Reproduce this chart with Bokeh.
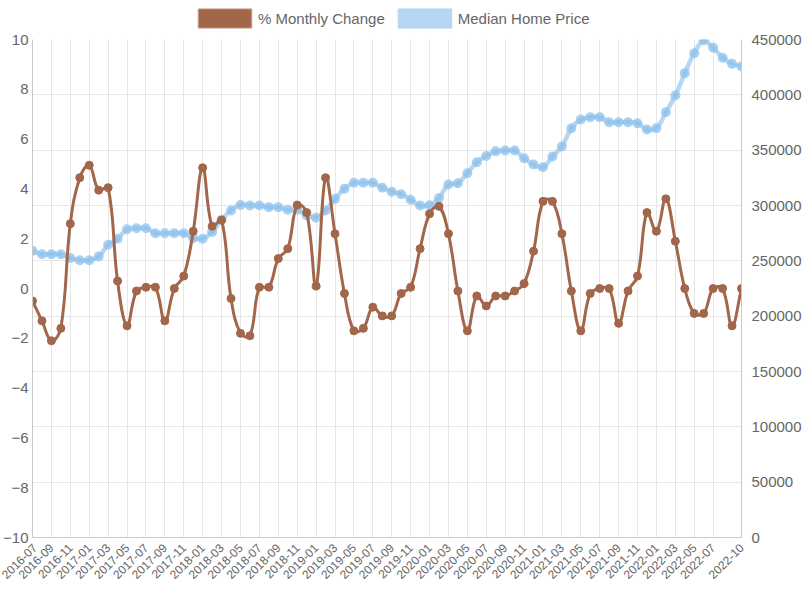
from bokeh.plotting import figure
from bokeh.layouts import column
from bokeh.models import (Range1d, LinearAxis, FixedTicker, Grid, Legend, LegendItem,
                          ColumnDataSource, BasicTickFormatter)
from bokeh.embed import file_html
from bokeh.resources import INLINE

months = ["2016-07", "2016-08", "2016-09", "2016-10", "2016-11", "2016-12",
          "2017-01", "2017-02", "2017-03", "2017-04", "2017-05", "2017-06",
          "2017-07", "2017-08", "2017-09", "2017-10", "2017-11", "2017-12",
          "2018-01", "2018-02", "2018-03", "2018-04", "2018-05", "2018-06",
          "2018-07", "2018-08", "2018-09", "2018-10", "2018-11", "2018-12",
          "2019-01", "2019-02", "2019-03", "2019-04", "2019-05", "2019-06",
          "2019-07", "2019-08", "2019-09", "2019-10", "2019-11", "2019-12",
          "2020-01", "2020-02", "2020-03", "2020-04", "2020-05", "2020-06",
          "2020-07", "2020-08", "2020-09", "2020-10", "2020-11", "2020-12",
          "2021-01", "2021-02", "2021-03", "2021-04", "2021-05", "2021-06",
          "2021-07", "2021-08", "2021-09", "2021-10", "2021-11", "2021-12",
          "2022-01", "2022-02", "2022-03", "2022-04", "2022-05", "2022-06",
          "2022-07", "2022-08", "2022-09", "2022-10"]

monthly_change = [-0.5, -1.3, -2.1, -1.6, 2.6, 4.45, 4.95, 3.95, 4.05, 0.3,
                  -1.5, -0.1, 0.05, 0.05, -1.3, 0.0, 0.5, 2.3, 4.85, 2.5,
                  2.75, -0.4, -1.8, -1.9, 0.05, 0.05, 1.2, 1.6, 3.35, 3.05,
                  0.1, 4.45, 2.2, -0.2, -1.7, -1.6, -0.75, -1.1, -1.1, -0.2,
                  0.05, 1.6, 3.0, 3.3, 2.2, -0.1, -1.7, -0.3, -0.7, -0.3,
                  -0.3, -0.1, 0.2, 1.5, 3.5, 3.5, 2.2, -0.1, -1.7, -0.2,
                  0.0, 0.0, -1.4, -0.1, 0.5, 3.05, 2.3, 3.6, 1.9, 0.0,
                  -1.0, -1.0, 0.0, 0.0, -1.5, 0.0]

median_price = [259000, 256000, 256000, 256000, 252500, 250500, 250500, 254000, 264500, 270000,
                278500, 279500, 279500, 275000, 275000, 275000, 275000, 270500, 270000, 276000,
                287000, 295500, 300500, 300000, 300000, 298500, 298500, 296100, 296100, 291000,
                288900, 295500, 306000, 315100, 320500, 320500, 320500, 316000, 312500, 310200,
                305200, 300000, 300300, 306800, 319000, 320100, 329200, 339100, 344800, 349000,
                349700, 349700, 342700, 337000, 334600, 344300, 353300, 369800, 377700, 379800,
                379800, 375300, 375300, 375300, 374400, 368700, 369800, 384300, 399400, 419600,
                437600, 449100, 442500, 433500, 428000, 425600]

left_ticks = [-10, -8, -6, -4, -2, 0, 2, 4, 6, 8, 10]
price_ticks = [0, 50000, 100000, 150000, 200000, 250000, 300000, 350000, 400000, 450000]
x_tick_idx = list(range(0, 73, 2)) + [75]

BROWN = "#a2664a"
BLUE = "#8fc1ec"
TEXT = "#666666"
GRID = "#e6e6e6"
AXIS = "#c8c8c8"
FONT = "Liberation Sans"

W = 808
LEG_H = 31
MAIN_H = 595 - LEG_H
LEFT, RIGHT, TOP, BOTTOM = 32, 67, 8, 58
FW, FH = W - LEFT - RIGHT, MAIN_H - TOP - BOTTOM

x = list(range(len(months)))


def spline(xs, ys, kx, ky, t=0.4):
    # Chart.js style cubic control points (computed in pixel-proportional space)
    n = len(xs)
    px = [v * kx for v in xs]
    py = [v * ky for v in ys]
    prev_c, next_c = [], []
    for i in range(n):
        a = max(i - 1, 0)
        b = min(i + 1, n - 1)
        d01 = ((px[i] - px[a]) ** 2 + (py[i] - py[a]) ** 2) ** 0.5
        d12 = ((px[b] - px[i]) ** 2 + (py[b] - py[i]) ** 2) ** 0.5
        tot = d01 + d12
        s01 = d01 / tot if tot else 0
        s12 = d12 / tot if tot else 0
        fa, fb = t * s01, t * s12
        dx, dy = px[b] - px[a], py[b] - py[a]
        prev_c.append(((px[i] - fa * dx) / kx, (py[i] - fa * dy) / ky))
        next_c.append(((px[i] + fb * dx) / kx, (py[i] + fb * dy) / ky))
    return dict(
        x0=xs[:-1], y0=ys[:-1], x1=xs[1:], y1=ys[1:],
        cx0=[c[0] for c in next_c[:-1]], cy0=[c[1] for c in next_c[:-1]],
        cx1=[c[0] for c in prev_c[1:]], cy1=[c[1] for c in prev_c[1:]],
    )


kx = FW / (len(months) - 1)
ky_left = FH / 20.0
ky_price = FH / 450000.0

p = figure(width=W, height=MAIN_H, output_backend="svg", toolbar_location=None,
           x_range=Range1d(0, len(months) - 1), y_range=Range1d(-10, 10),
           min_border_left=LEFT, min_border_right=RIGHT,
           min_border_top=TOP, min_border_bottom=BOTTOM)
p.extra_y_ranges = {"price": Range1d(0, 450000)}
p.outline_line_color = None
p.background_fill_color = "white"
p.border_fill_color = "white"

# grids
p.ygrid.visible = False
p.xgrid.ticker = FixedTicker(ticks=x_tick_idx)
p.xgrid.grid_line_color = GRID
p.add_layout(Grid(dimension=1, ticker=FixedTicker(ticks=price_ticks),
                  y_range_name="price", grid_line_color=GRID))


def style_axis(ax, size, standoff):
    ax.major_label_text_font = FONT
    ax.major_label_text_font_size = size
    ax.major_label_text_color = TEXT
    ax.major_label_standoff = standoff
    ax.axis_line_color = AXIS
    ax.major_tick_line_color = None
    ax.minor_tick_line_color = None
    ax.major_tick_out = 0
    ax.major_tick_in = 0
    ax.minor_tick_out = 0
    ax.minor_tick_in = 0


xa = p.xaxis[0]
xa.ticker = FixedTicker(ticks=x_tick_idx)
xa.major_label_overrides = {i: months[i] for i in x_tick_idx}
xa.major_label_orientation = 0.785
style_axis(xa, "12px", 8)

ya = p.yaxis[0]
ya.ticker = FixedTicker(ticks=left_ticks)
style_axis(ya, "15px", 4)

ra = LinearAxis(y_range_name="price", ticker=FixedTicker(ticks=price_ticks),
                formatter=BasicTickFormatter(use_scientific=False))
style_axis(ra, "15px", 10)
p.add_layout(ra, "right")

# median home price (drawn first, underneath)
blue_seg = ColumnDataSource(spline(x, median_price, kx, ky_price))
p.bezier(x0="x0", y0="y0", x1="x1", y1="y1", cx0="cx0", cy0="cy0", cx1="cx1", cy1="cy1",
         source=blue_seg, line_color=BLUE, line_width=4.5, line_alpha=0.65,
         line_cap="round", y_range_name="price")
p.scatter(x, median_price, size=10, fill_color=BLUE, fill_alpha=0.75,
          line_color=None, y_range_name="price")

# monthly change
brown_seg = ColumnDataSource(spline(x, monthly_change, kx, ky_left))
p.bezier(x0="x0", y0="y0", x1="x1", y1="y1", cx0="cx0", cy0="cy0", cx1="cx1", cy1="cy1",
         source=brown_seg, line_color=BROWN, line_width=3, line_cap="round")
p.scatter(x, monthly_change, size=8, fill_color=BROWN, line_color=BROWN)

# legend strip on top
lg = figure(width=W, height=LEG_H, output_backend="svg", toolbar_location=None,
            x_range=Range1d(0, 1), y_range=Range1d(0, 1),
            x_axis_location=None, y_axis_location=None, min_border=0)
lg.outline_line_color = None
lg.xgrid.visible = False
lg.ygrid.visible = False
hidden = dict(left=[-100], right=[-99], top=[-100], bottom=[-101])
sw1 = lg.quad(source=ColumnDataSource(hidden), left="left", right="right", top="top",
              bottom="bottom", fill_color=BROWN, line_color="#c9a593", line_width=1)
sw2 = lg.quad(source=ColumnDataSource(hidden), left="left", right="right", top="top",
              bottom="bottom", fill_color="#b5d7f4", line_color="#b5d7f4", line_width=1)
legend = Legend(items=[LegendItem(label="% Monthly Change", renderers=[sw1]),
                       LegendItem(label="Median Home Price", renderers=[sw2])],
                orientation="horizontal", location=(159, 1),
                glyph_width=67, glyph_height=24, label_standoff=0, spacing=6,
                padding=0, margin=0, border_line_color=None,
                background_fill_alpha=0,
                label_text_font=FONT, label_text_font_size="15px",
                label_text_color=TEXT)
lg.add_layout(legend)

layout = column(lg, p, spacing=0)
open("out.html", "w").write(file_html(layout, INLINE))
